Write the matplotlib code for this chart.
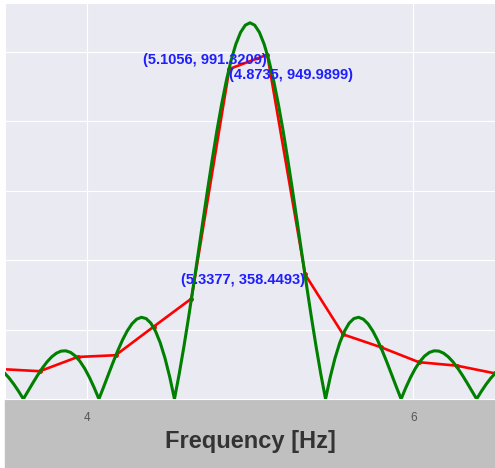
import matplotlib
matplotlib.use("Agg")
import matplotlib.pyplot as plt
import seaborn as sns
from matplotlib.patches import Rectangle

# continuous magnitude curve
freq_cont = [3.4968, 3.5257, 3.5546, 3.5835, 3.6124, 3.6413, 3.6702, 3.6992,
             3.7280, 3.7570, 3.7859, 3.8148, 3.8437, 3.8726, 3.9015, 3.9304,
             3.9593, 3.9882, 4.0171, 4.0460, 4.0749, 4.1039, 4.1328, 4.1617,
             4.1906, 4.2195, 4.2484, 4.2773, 4.3062, 4.3351, 4.3640, 4.3929,
             4.4218, 4.4508, 4.4797, 4.5086, 4.5375, 4.5664, 4.5953, 4.6242,
             4.6531, 4.6820, 4.7109, 4.7398, 4.7687, 4.7976, 4.8266, 4.8555,
             4.8844, 4.9133, 4.9422, 4.9711, 5.0000, 5.0289, 5.0578, 5.0867,
             5.1156, 5.1445, 5.1734, 5.2024, 5.2313, 5.2602, 5.2891, 5.3180,
             5.3469, 5.3758, 5.4047, 5.4336, 5.4625, 5.4914, 5.5203, 5.5492,
             5.5782, 5.6071, 5.6360, 5.6649, 5.6938, 5.7227, 5.7516, 5.7805,
             5.8094, 5.8383, 5.8672, 5.8961, 5.9251, 5.9540, 5.9829, 6.0118,
             6.0407, 6.0696, 6.0985, 6.1274, 6.1563, 6.1852, 6.2141, 6.2430,
             6.2720, 6.3008, 6.3298, 6.3587, 6.3876, 6.4165, 6.4454, 6.4743,
             6.5032]
mag_cont = [75.0, 60.1, 42.2, 22.0, 0.0, 22.9, 45.9, 68.1,
            88.6, 106.7, 121.3, 131.9, 137.9, 138.7, 134.1, 123.9,
            108.3, 87.6, 62.1, 32.6, 0.0, 34.7, 70.4, 105.7,
            139.3, 169.9, 196.0, 216.4, 229.8, 235.2, 231.6, 218.4,
            195.0, 161.3, 117.3, 63.3, 0.0, 71.7, 150.8, 235.7,
            325.0, 416.9, 509.6, 601.1, 689.5, 772.8, 849.3, 917.2,
            975.0, 1021.4, 1055.4, 1076.1, 1083.0, 1076.1, 1055.4, 1021.4,
            975.0, 917.2, 849.3, 772.8, 689.5, 601.1, 509.6, 416.9,
            325.0, 235.7, 150.8, 71.7, 0.0, 63.3, 117.3, 161.3,
            195.0, 218.4, 231.6, 235.2, 229.8, 216.4, 196.0, 169.9,
            139.3, 105.7, 70.4, 34.7, 0.0, 32.6, 62.1, 87.6,
            108.3, 123.9, 134.1, 138.7, 137.9, 131.9, 121.3, 106.7,
            88.6, 68.1, 45.9, 22.9, 0.0, 22.0, 42.2, 60.1,
            75.0]

# DFT samples
freq_dft = [3.4809, 3.7130, 3.9451, 4.1772, 4.4093, 4.6414, 4.8735, 5.1056,
            5.3377, 5.5698, 5.8019, 6.0340, 6.2661, 6.4982, 6.7303]
mag_dft = [86, 80, 121, 126, 208, 289, 949.9899, 991.3209,
           358.4493, 186, 149, 106, 96, 74, 60]

# annotated samples
ann_freq = [5.1056, 4.8735, 5.3377]
ann_mag = [991.3209, 949.9899, 358.4493]
ann_ha = ["right", "left", "right"]

xticks = [4, 6]

sns.set_style("darkgrid")
plt.rcParams["font.family"] = ["Liberation Sans", "DejaVu Sans"]

fig = plt.figure(figsize=(4.95, 4.68), dpi=100, facecolor="white")
fig.patches.append(Rectangle((5 / 495, 0), 1 - 5 / 495, 1 - 399 / 468,
                             transform=fig.transFigure, color="#c0c0c0",
                             zorder=-5))
ax = fig.add_axes([5 / 495, 1 - 399 / 468, 1 - 5 / 495, 396 / 468])

ax.plot(freq_dft, mag_dft, color="red", lw=1.9, marker=".", ms=5, zorder=2)
ax.plot(freq_cont, mag_cont, color="green", lw=2.2, zorder=3)

for f, m, ha in zip(ann_freq, ann_mag, ann_ha):
    ax.text(f, m + 4, "(%.4f, %.4f)" % (f, m), ha=ha, va="top", color="#1e1eff",
            fontsize=10.5, fontweight="bold", zorder=4)

ax.set_xlim(3.5, 6.5)
ax.set_ylim(0, 1140)
ax.set_xticks(xticks)
ax.set_yticks([0, 200, 400, 600, 800, 1000])
ax.set_yticklabels([])
ax.tick_params(axis="x", labelsize=8.5, labelcolor="#555555", pad=6)
ax.tick_params(axis="y", length=0)
ax.set_xlabel("Frequency [Hz]", fontsize=17, fontweight="bold",
              color="#333333", labelpad=4)

fig.savefig("out.png", dpi=100, facecolor=fig.get_facecolor())
